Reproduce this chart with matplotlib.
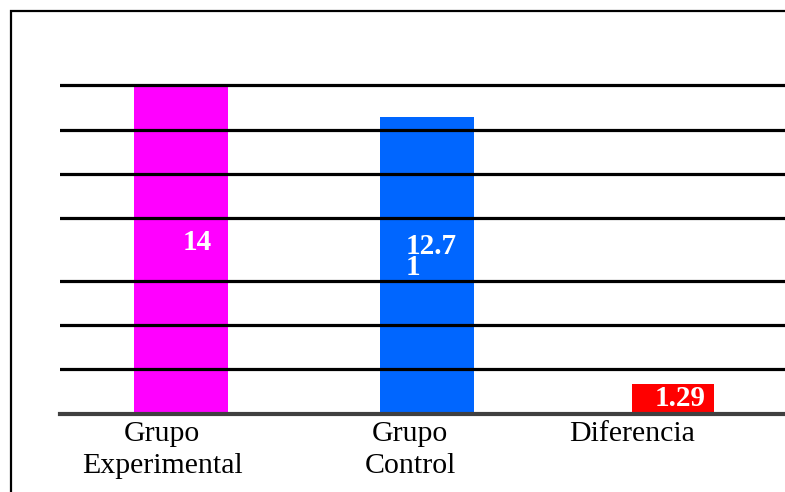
import matplotlib.pyplot as plt
from matplotlib.patches import Rectangle

categories = ["Grupo\nExperimental", "Grupo\nControl", "Diferencia"]
values = [14, 12.71, 1.29]
colors = ["#ff00ff", "#0066ff", "#ff0000"]
grid_levels = [1.92, 3.8, 5.69, 8.38, 10.27, 12.15, 14.08]


def wrap_label(v):
    s = f"{v:g}"
    return s[:4] + "\n" + s[4:] if len(s) > 4 else s


def main():
    plt.rcParams["font.family"] = ["Liberation Serif", "DejaVu Serif"]
    fig = plt.figure(figsize=(7.85, 4.92), dpi=100)
    ax = fig.add_axes([0.0764, 0.159, 0.9236, 0.8])

    x = list(range(len(values)))
    widths = [0.382, 0.382, 0.333]
    ax.bar(x, values, width=widths, color=colors, zorder=1)

    for g in grid_levels:
        ax.axhline(g, color="black", lw=2.3, zorder=2)

    label_dx = [0.065, 0.016, 0.03]
    label_dy = [0.35, 0.35, 0.0]
    for xi, v, dx, dy in zip(x, values, label_dx, label_dy):
        ax.text(xi + dx, v / 2 + dy, wrap_label(v), ha="center", va="center",
                multialignment="left", color="white", fontsize=21,
                fontweight="bold", linespacing=0.72, zorder=3)

    ax.set_xlim(-0.492, 2.455)
    ax.set_ylim(0, 16.86)
    label_shift = [-0.077, -0.069, -0.167]
    ax.set_xticks([xi + s for xi, s in zip(x, label_shift)])
    ax.set_xticklabels(categories, fontsize=21.5, linespacing=1.3)
    ax.tick_params(axis="x", length=0, pad=5)
    ax.set_yticks([])

    for side in ["top", "right", "left"]:
        ax.spines[side].set_visible(False)
    ax.spines["bottom"].set_color("#404040")
    ax.spines["bottom"].set_linewidth(3)
    ax.spines["bottom"].set_zorder(4)

    fig.patches.append(Rectangle((11 / 785, -0.1), 1.2, (481 / 492) + 0.1,
                                 transform=fig.transFigure, fill=False,
                                 edgecolor="black", lw=1.6))

    fig.savefig("out.png", dpi=100)


if __name__ == "__main__":
    main()
